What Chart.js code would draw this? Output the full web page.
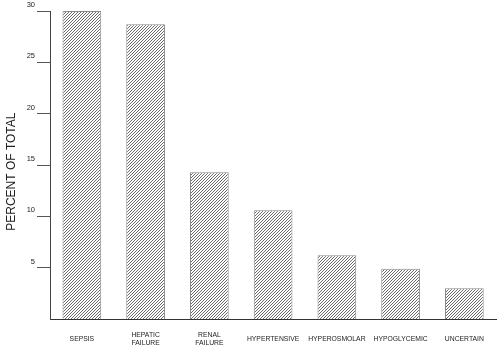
<!DOCTYPE html>
<html>
<head>
<meta charset="utf-8">
<script src="https://cdn.jsdelivr.net/npm/chart.js@4/dist/chart.umd.min.js"></script>
<style>
  html, body { margin: 0; padding: 0; background: #ffffff; }
  #wrap { width: 500px; height: 348px; }
</style>
</head>
<body>
<div id="wrap"><canvas id="chart" width="500" height="348"></canvas></div>
<script>
// categories and values
const categories = [['SEPSIS'], ['HEPATIC', 'FAILURE'], ['RENAL', 'FAILURE'], ['HYPERTENSIVE'], ['HYPEROSMOLAR'], ['HYPOGLYCEMIC'], ['UNCERTAIN']];
const percentValues = [30, 28.7, 14.3, 10.6, 6.2, 4.9, 3.0];
const yTickValues = [5, 10, 15, 20, 25, 30];
const yTitle = 'PERCENT OF TOTAL    ';

// Small diagonal hatch tile used as the bar fill
function makeHatch() {
    const tile = document.createElement('canvas');
    tile.width = 3;
    tile.height = 3;
    const t = tile.getContext('2d');
    t.fillStyle = '#ffffff';
    t.fillRect(0, 0, 3, 3);
    t.fillStyle = '#6a6a6a';
    t.fillRect(0, 2, 1, 1);
    t.fillRect(1, 1, 1, 1);
    t.fillRect(2, 0, 1, 1);
    return t.createPattern(tile, 'repeat');
}

const ctx = document.getElementById('chart').getContext('2d');
new Chart(ctx, {
    type: 'bar',
    data: {
        labels: categories,
        datasets: [{
            data: percentValues,
            backgroundColor: makeHatch(),
            borderColor: '#8a8a8a',
            borderWidth: 1,
            barPercentage: 0.607,
            categoryPercentage: 1.0
        }]
    },
    options: {
        responsive: false,
        animation: false,
        layout: {
            padding: { top: 11, right: 2, bottom: 0, left: 0 }
        },
        plugins: {
            legend: { display: false },
            tooltip: { enabled: false }
        },
        scales: {
            x: {
                grid: {
                    display: true,
                    drawOnChartArea: false,
                    drawTicks: false
                },
                border: { display: true, color: '#333333', width: 1 },
                ticks: {
                    autoSkip: false,
                    maxRotation: 0,
                    minRotation: 0,
                    crossAlign: 'center',
                    padding: 16,
                    font: { size: 6.8, family: 'Liberation Sans, Arial', lineHeight: 1.18 },
                    color: '#222222'
                },
                afterFit: s => { s.height = 29; }
            },
            y: {
                min: 0,
                max: 30,
                afterBuildTicks: axis => { axis.ticks = yTickValues.map(v => ({ value: v })); },
                afterFit: s => { s.width = 50; },
                grid: {
                    drawOnChartArea: false,
                    drawTicks: true,
                    tickLength: 13,
                    color: '#555555'
                },
                border: { display: true, color: '#444444', width: 1 },
                ticks: {
                    padding: 2,
                    labelOffset: -6,
                    font: { size: 7.5, family: 'Liberation Sans, Arial' },
                    color: '#222222'
                },
                title: {
                    display: true,
                    text: yTitle,
                    padding: { top: 4, bottom: 0 },
                    font: { size: 12, family: 'Liberation Sans, Arial' },
                    color: '#222222'
                }
            }
        }
    }
});
</script>
</body>
</html>
